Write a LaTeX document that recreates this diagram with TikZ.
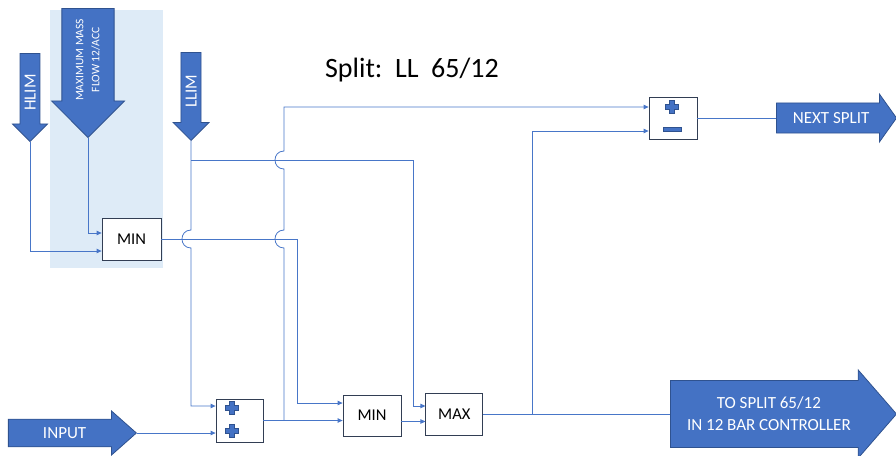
\documentclass[tikz,border=0pt]{standalone}
\usepackage{fontspec}
\setmainfont{Carlito}
\usetikzlibrary{positioning, arrows.meta, shapes.arrows, calc}

\definecolor{panelblue}{RGB}{222,235,247}
\definecolor{arrowfill}{RGB}{68,114,196}
\definecolor{arrowedge}{RGB}{47,82,143}
\definecolor{wireblue}{RGB}{72,118,200}
\definecolor{gateedge}{RGB}{50,62,84}

\begin{document}
\begin{tikzpicture}[
  x=1pt, y=-1pt,
  font=\fontsize{17}{22}\selectfont,
  bigarrow/.style={single arrow, draw=arrowedge, fill=arrowfill, line width=0.8pt, text=white, inner xsep=2pt, inner ysep=0pt, anchor=tip},
  downarrow/.style={bigarrow, rotate=90, shape border rotate=180},
  gate/.style={rectangle, draw=gateedge, fill=white, line width=0.8pt, inner sep=0pt, font=\fontsize{16.5}{20}\selectfont},
  wire/.style={draw=wireblue, line width=0.8pt},
  feed/.style={wire, -{Triangle[length=5pt, width=4.5pt]}},
  signfill/.style={fill=arrowfill, draw=arrowedge, line width=0.6pt},
  plussign/.pic={\path[signfill] (-2.3,-6.5) -- (2.3,-6.5) -- (2.3,-2.3) -- (6.5,-2.3) -- (6.5,2.3) -- (2.3,2.3) -- (2.3,6.5) -- (-2.3,6.5) -- (-2.3,2.3) -- (-6.5,2.3) -- (-6.5,-2.3) -- (-2.3,-2.3) -- cycle;},
  minussign/.pic={\path[signfill] (-9,-2.2) rectangle (9,2.2);}
]
  \useasboundingbox (0,0) rectangle (896,455);
  \fill[panelblue] (50,10) rectangle (163,268);

  \node[anchor=base, font=\fontsize{28}{33}\selectfont] (title) at (412,77) {Split:~~LL~~65/12};

  % limits coming in from the top
  \node[downarrow, minimum height=88pt, minimum width=35pt, text height=14.5pt, text depth=3.5pt] (hlim) at (30,142) {HLIM};
  \node[downarrow, minimum height=129pt, minimum width=73pt, inner ysep=5.5pt, align=center, font=\fontsize{11.5}{16}\selectfont] (maxflow) at (88,138) {MAXIMUM MASS\\FLOW 12/ACC};
  \node[downarrow, minimum height=88pt, minimum width=36pt, text height=14pt, text depth=3pt] (llim) at (191,141) {LLIM};
  \node[bigarrow, minimum height=128pt, minimum width=44pt, single arrow tip angle=83, text height=17pt, text depth=6pt] (input) at (137,433) {INPUT};
  \node[bigarrow, minimum height=120pt, minimum width=48pt, single arrow tip angle=109, text height=17pt, text depth=6pt] (next) at (897,118) {NEXT SPLIT};
  \node[bigarrow, minimum height=226pt, minimum width=88pt, single arrow tip angle=98, inner ysep=5.5pt, align=center] (tosplit) at (897,414) {TO SPLIT 65/12\\IN 12 BAR CONTROLLER};

  % function blocks
  \node[gate, minimum width=59pt, minimum height=42pt] (min1) at (131.5,239) {MIN};
  \node[gate, minimum width=47pt, minimum height=43pt] (adder) at (239.5,420.5) {};
  \node[gate, minimum width=58pt, minimum height=41pt] (min2) at (372,415.5) {MIN};
  \node[gate, minimum width=57pt, minimum height=42pt, right=24pt of min2, yshift=1.5pt] (max) {MAX};
  \node[gate, minimum width=48pt, minimum height=42pt] (sub) at (673,118) {};
  \pic at ([shift={(-8,-12.5)}]adder.center) {plussign};
  \pic at ([shift={(-8,10.5)}]adder.center) {plussign};
  \pic at ([shift={(-1.5,-11)}]sub.center) {plussign};
  \pic at ([shift={(-1,11.5)}]sub.center) {minussign};

  % signal lines
  \draw[feed] (maxflow.tip) |- ([shift={(0,-6)}]min1.west);
  \draw[feed] (hlim.tip) |- ([shift={(0,12)}]min1.west);
  \draw[feed] (min1.east) -| ([shift={(-45,-12.5)}]min2.west) -- ([shift={(0,-12.5)}]min2.west);
  \draw[feed] (llim.tip) -- (191,230) .. controls (179,230) and (179,248) .. (191,248) |- ([shift={(0,-14.5)}]adder.west);
  \draw[feed] ($(llim.tip)+(0,19)$) -| ([shift={(-12,-8)}]max.west) -- ([shift={(0,-8)}]max.west);
  \draw[feed] (input.tip) -- (input.tip -| adder.west);
  \draw[feed] (adder.east) -- (adder.east -| min2.west);
  \draw[feed] (adder.east -| 284,0) -- (284,248) .. controls (272,248) and (272,230) .. (284,230) -- (284,169) .. controls (272,169) and (272,151) .. (284,151) |- ([shift={(0,-11)}]sub.west);
  \draw[feed] ([shift={(0,6)}]min2.east) -- ([shift={(0,6)}]min2.east -| max.west);
  \draw[wire] (max.east) -- (max.east -| tosplit.tail);
  \draw[feed] ($(max.east)+(49,0)$) |- ([shift={(0,13)}]sub.west);
  \draw[wire] (sub.east) -- (sub.east -| next.tail);
\end{tikzpicture}
\end{document}
